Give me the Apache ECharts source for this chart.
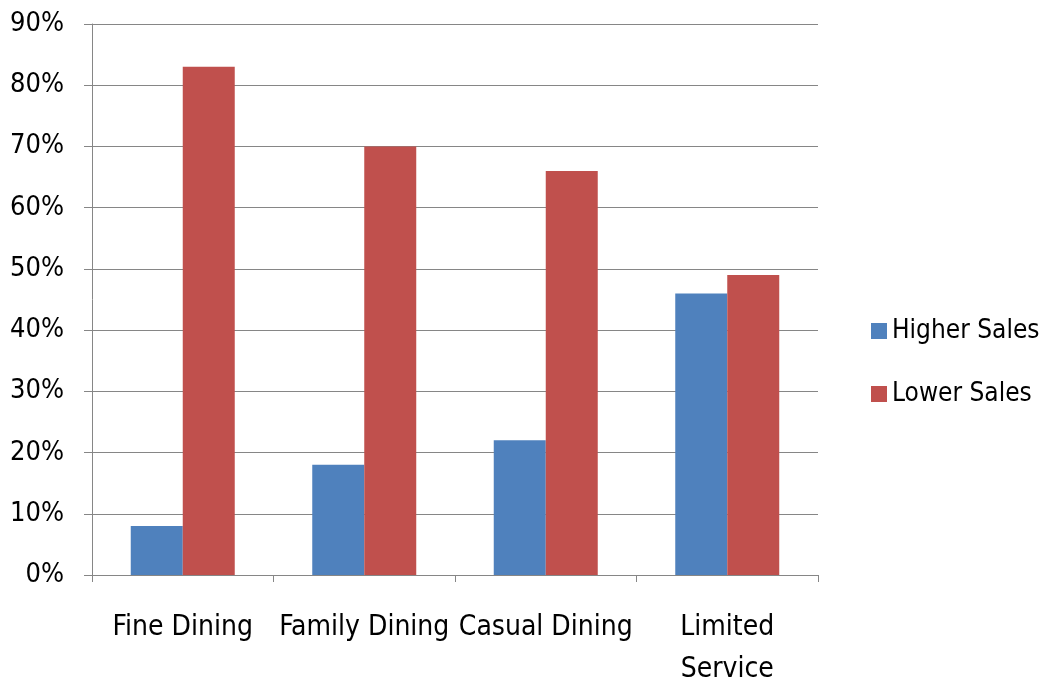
<!DOCTYPE html>
<html>
<head>
<meta charset="utf-8">
<script src="https://cdn.jsdelivr.net/npm/echarts@6/dist/echarts.min.js"></script>
<style>
  html, body { margin: 0; padding: 0; background: #fff; }
  #chart { width: 1051px; height: 691px; }
</style>
</head>
<body>
<div id="chart"></div>
<script>
// Restaurant segments and share of operators reporting higher / lower sales (%)
const categories = ['Fine Dining', 'Family Dining', 'Casual Dining', 'Limited\nService'];
const higherSales = [8, 18, 22, 46];
const lowerSales = [83, 70, 66, 49];
const seriesNames = ['Higher Sales', 'Lower Sales'];

const FONT = '"Liberation Sans Narrow", "DejaVu Sans Condensed", "Open Sans", sans-serif';
const AXIS_GREY = '#868686';

const chart = echarts.init(document.getElementById('chart'));
chart.setOption({
  animation: false,
  backgroundColor: '#ffffff',
  textStyle: { fontFamily: FONT, color: '#000' },
  grid: { left: 92, right: 233, top: 24, bottom: 114, containLabel: false },
  legend: {
    orient: 'vertical',
    left: 866,
    top: 311,
    itemWidth: 16,
    itemHeight: 16,
    itemGap: 33,
    icon: 'rect',
    data: seriesNames,
    textStyle: { fontFamily: FONT, fontSize: 26, lineHeight: 30, color: '#000' }
  },
  xAxis: {
    type: 'category',
    data: categories,
    axisLine: { lineStyle: { color: AXIS_GREY, width: 1 } },
    axisTick: { show: true, length: 7, lineStyle: { color: AXIS_GREY } },
    axisLabel: {
      fontFamily: FONT, fontSize: 28, color: '#000', margin: 32,
      lineHeight: 42, interval: 0
    }
  },
  yAxis: {
    type: 'value',
    min: 0,
    max: 90,
    interval: 10,
    axisLine: { show: true, lineStyle: { color: AXIS_GREY, width: 1 } },
    axisTick: { show: true, length: 8, lineStyle: { color: AXIS_GREY } },
    splitLine: { show: true, lineStyle: { color: AXIS_GREY, width: 1 } },
    axisLabel: {
      fontFamily: FONT, fontSize: 27, color: '#000', margin: 28,
      formatter: '{value}%'
    }
  },
  series: [
    {
      name: seriesNames[0],
      type: 'bar',
      data: higherSales,
      itemStyle: { color: '#4F81BD' },
      barGap: '0%',
      barCategoryGap: '42.7%'
    },
    {
      name: seriesNames[1],
      type: 'bar',
      data: lowerSales,
      itemStyle: { color: '#C0504D' },
      barGap: '0%',
      barCategoryGap: '42.7%'
    }
  ]
});
</script>
</body>
</html>
